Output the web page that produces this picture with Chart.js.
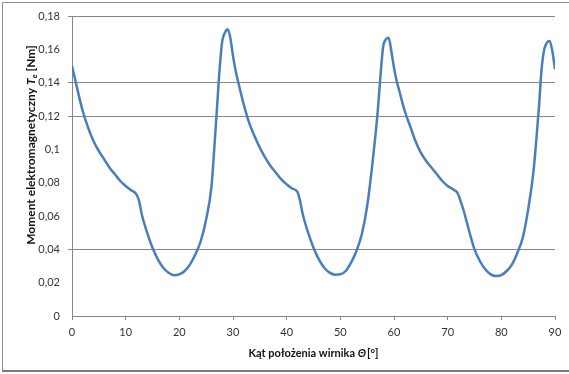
<!DOCTYPE html>
<html>
<head>
<meta charset="utf-8">
<script src="https://cdn.jsdelivr.net/npm/chart.js@4.4.1/dist/chart.umd.min.js"></script>
<style>
  body { margin: 0; background: #fff; }
  #wrap { width: 569px; height: 374px; }
</style>
</head>
<body>
<div id="wrap"><canvas id="myLine" width="569" height="374"></canvas></div>
<script>
// rotor angle [deg] and electromagnetic torque [Nm]
const angleDeg = [
  0, 1, 2, 3, 4, 5, 6, 7, 8, 9, 10, 11, 12, 12.5, 13, 14, 15, 16, 17, 18, 19, 20,
  21, 22, 23, 24, 25, 26, 26.5, 27, 27.5, 28, 28.5, 29, 29.5, 30, 30.5,
  31, 32, 33, 34, 35, 36, 37, 38, 39, 40, 41, 42, 42.5, 43, 44, 45, 46, 47, 48, 49, 50,
  51, 52, 53, 54, 55, 56, 56.5, 57, 57.5, 58, 58.5, 59, 59.5, 60, 60.5,
  61, 62, 63, 64, 65, 66, 67, 68, 69, 70, 71, 71.8, 72.5, 73, 74, 75, 76, 77, 78, 79, 80,
  81, 82, 83, 84, 85, 86, 86.5, 87, 87.5, 88, 88.5, 89, 89.5, 90
];
const torqueNm = [
  0.150, 0.136, 0.123, 0.113, 0.105, 0.099, 0.094, 0.089, 0.085, 0.081, 0.078, 0.0755, 0.073, 0.069, 0.061, 0.050, 0.041, 0.034, 0.029, 0.026, 0.0245, 0.025,
  0.027, 0.031, 0.037, 0.045, 0.058, 0.078, 0.100, 0.124, 0.148, 0.165, 0.170, 0.172, 0.167, 0.156, 0.147,
  0.140, 0.127, 0.116, 0.108, 0.101, 0.095, 0.090, 0.086, 0.082, 0.079, 0.0765, 0.0745, 0.069, 0.061, 0.050, 0.041, 0.034, 0.029, 0.026, 0.0248, 0.025,
  0.027, 0.032, 0.039, 0.049, 0.066, 0.092, 0.107, 0.124, 0.145, 0.162, 0.166, 0.167, 0.159, 0.149, 0.141,
  0.135, 0.123, 0.114, 0.105, 0.098, 0.093, 0.089, 0.085, 0.081, 0.078, 0.076, 0.074, 0.068, 0.063, 0.051, 0.040, 0.033, 0.028, 0.025, 0.024, 0.0245,
  0.027, 0.031, 0.038, 0.047, 0.064, 0.087, 0.105, 0.125, 0.148, 0.160, 0.164, 0.165, 0.159, 0.148
];

const xTickLabels = ['0', '10', '20', '30', '40', '50', '60', '70', '80', '90'];
const yTickLabels = ['0', '0,02', '0,04', '0,06', '0,08', '0,1', '0,12', '0,14', '0,16', '0,18'];
const yGridShown = [0.04, 0.12, 0.14, 0.18];

const xTitle = ['Kąt położenia wirnika ', 'Θ', '[°]'];
const yTitle = ['Moment elektromagnetyczny ', 'T', 'e', ' [Nm]'];

const gridGray = '#868686';
const tickFont = { family: 'Lato', size: 11 };

const frame = {
  id: 'frame',
  beforeDraw(chart) {
    const c = chart.ctx;
    c.save();
    c.fillStyle = '#fff';
    c.fillRect(0, 0, chart.width, chart.height);
    c.strokeStyle = '#8a8a8a';
    c.lineWidth = 1;
    c.beginPath();
    c.moveTo(2.5, 372);
    c.lineTo(2.5, 2.5);
    c.lineTo(chart.width, 2.5);
    c.stroke();
    c.strokeStyle = '#7a7a7a';
    c.lineWidth = 2;
    c.beginPath();
    c.moveTo(2, 371);
    c.lineTo(chart.width, 371);
    c.stroke();
    c.restore();
  }
};

// axis titles with italic symbols and subscript
const titles = {
  id: 'titles',
  afterDraw(chart) {
    const c = chart.ctx;
    const a = chart.chartArea;
    c.save();
    c.fillStyle = '#111';
    c.textBaseline = 'middle';
    c.textAlign = 'left';

    // x title
    let bold = 'bold 11px Lato', boldIt = 'italic bold 11px Lato';
    c.font = bold; const w1 = c.measureText(xTitle[0]).width;
    c.font = boldIt; const w2 = c.measureText(xTitle[1]).width + 1;
    c.font = bold; const w3 = c.measureText(xTitle[2]).width;
    let x = (a.left + a.right) / 2 - (w1 + w2 + w3) / 2;
    const y = 353;
    c.font = bold; c.fillText(xTitle[0], x, y); x += w1;
    c.font = boldIt; c.fillText(xTitle[1], x, y); x += w2;
    c.font = bold; c.fillText(xTitle[2], x, y);

    // y title, rotated
    bold = 'bold 12px Lato'; boldIt = 'italic bold 12px Lato';
    const sub = 'italic bold 8px Lato';
    c.translate(31, 145);
    c.rotate(-Math.PI / 2);
    c.font = bold; const v1 = c.measureText(yTitle[0]).width;
    c.font = boldIt; const v2 = c.measureText(yTitle[1]).width;
    c.font = sub; const v3 = c.measureText(yTitle[2]).width;
    c.font = bold; const v4 = c.measureText(yTitle[3]).width;
    let p = -(v1 + v2 + v3 + v4) / 2;
    c.font = bold; c.fillText(yTitle[0], p, 0); p += v1;
    c.font = boldIt; c.fillText(yTitle[1], p, 0); p += v2;
    c.font = sub; c.fillText(yTitle[2], p, 3); p += v3;
    c.font = bold; c.fillText(yTitle[3], p, 0);
    c.restore();
  }
};

const ctx = document.getElementById('myLine');

const myLine = new Chart(ctx, {
  type: 'line',
  data: {
    datasets: [{
      data: angleDeg.map((a, i) => ({ x: a, y: torqueNm[i] })),
      borderColor: '#4a7ebb',
      borderWidth: 2.5,
      pointRadius: 0,
      cubicInterpolationMode: 'monotone',
      fill: false,
    }]
  },
  options: {
    responsive: false,
    animation: false,
    layout: { padding: { left: 0, top: 16, right: 14, bottom: 0 } },
    plugins: {
      legend: { display: false },
      tooltip: { enabled: false },
    },
    scales: {
      x: {
        type: 'linear',
        min: 0,
        max: 90,
        afterFit: (s) => { s.height = 58; },
        ticks: {
          stepSize: 10,
          padding: 6,
          color: '#333',
          font: tickFont,
          maxRotation: 0,
          callback: (v, i) => xTickLabels[i],
        },
        grid: { drawOnChartArea: false, tickLength: 4, color: gridGray },
        border: { color: gridGray, width: 1 },
      },
      y: {
        min: 0,
        max: 0.18,
        afterFit: (s) => { s.width = 72; },
        ticks: {
          stepSize: 0.02,
          padding: 8,
          color: '#333',
          font: tickFont,
          callback: (v, i) => yTickLabels[i],
        },
        grid: {
          tickLength: 4,
          color: (c) => yGridShown.some(g => Math.abs(g - c.tick.value) < 1e-6) ? gridGray : 'rgba(0,0,0,0)',
        },
        border: { color: gridGray, width: 1 },
      }
    }
  },
  plugins: [frame, titles]
});
</script>
</body>
</html>
